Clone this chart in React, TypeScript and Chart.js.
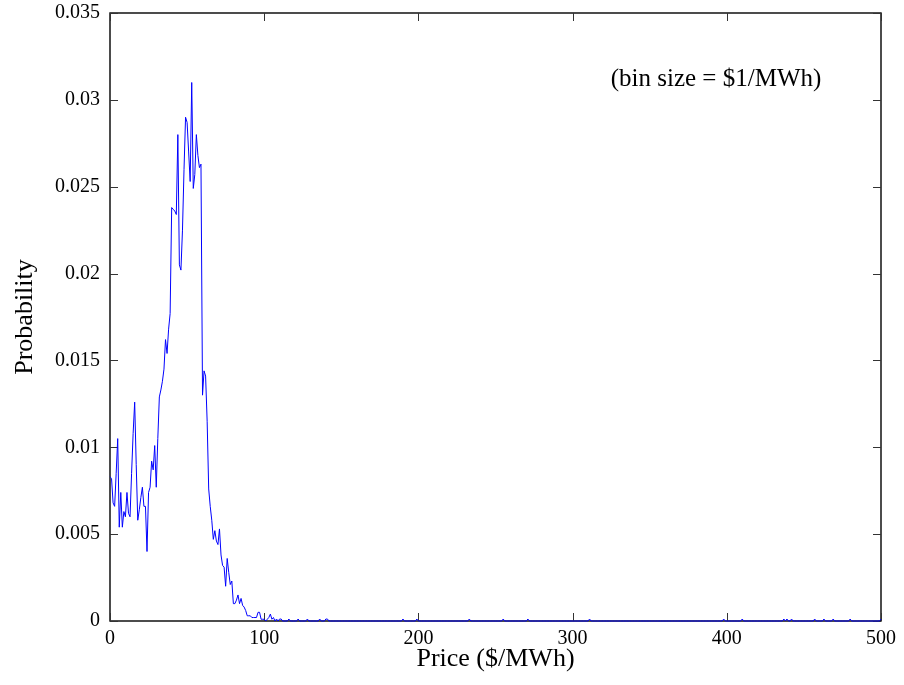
import React, { useEffect, useRef } from 'react';
import { Chart, registerables } from 'chart.js';

Chart.register(...registerables);

// Main body of the histogram: price bins $0..$105 (bin size $1/MWh)
const BODY_PROBS: number[] = [
  0.0083, 0.0082, 0.0068, 0.0066, 0.0085, 0.0105, 0.0054, 0.0074, 0.0054, 0.0063, // 0-9
  0.0060, 0.0074, 0.0062, 0.0060, 0.0085, 0.0108, 0.0126, 0.0090, 0.0058, 0.0064, // 10-19
  0.0071, 0.0077, 0.0066, 0.0066, 0.0040, 0.0074, 0.0077, 0.0092, 0.0087, 0.0101, // 20-29
  0.0077, 0.0105, 0.0129, 0.0133, 0.0138, 0.0145, 0.0162, 0.0154, 0.0168, 0.0177, // 30-39
  0.0238, 0.0237, 0.0236, 0.0234, 0.0280, 0.0205, 0.0202, 0.0225, 0.0260, 0.0290, // 40-49
  0.0287, 0.0270, 0.0253, 0.0310, 0.0249, 0.0257, 0.0280, 0.0268, 0.0261, 0.0263, // 50-59
  0.0130, 0.0144, 0.0141, 0.0115, 0.0076, 0.0066, 0.0058, 0.0047, 0.0052, 0.0046, // 60-69
  0.0044, 0.0053, 0.0038, 0.0032, 0.0031, 0.0020, 0.0036, 0.0028, 0.0021, 0.0023, // 70-79
  0.0010, 0.0010, 0.0012, 0.0015, 0.0010, 0.0013, 0.0009, 0.0008, 0.0006, 0.0003, // 80-89
  0.0003, 0.0003, 0.0002, 0.0002, 0.0002, 0.0002, 0.0005, 0.0005, 0.0001, 0.0001, // 90-99
  0.0001, 0.0000, 0.0001, 0.0002, 0.0004, 0.0001,                                 // 100-105
];

// Sparse high-price tail: isolated single-hour bins
const TAIL_PRICES: number[] = [106, 108, 110, 111, 116, 122, 128, 136, 140, 141, 190, 199, 233, 255, 271, 311, 398, 410, 437, 439, 442, 457, 463, 469, 480, 500];
const TAIL_PROBS: number[] = [0.0002, 0.000114, 0.000114, 0.000114, 0.000114, 0.000114, 0.000114, 0.000114, 0.000114, 0.000114, 0.000114, 0.000114, 0.000114, 0.000114, 0.000114, 0.000114, 0.000114, 0.000114, 0.000114, 0.000114, 0.000114, 0.000114, 0.000114, 0.000114, 0.000114, 0.000114];

const MAX_PRICE = 500;
const X_TICKS: number[] = [0, 100, 200, 300, 400, 500];
const Y_TICKS: number[] = [0, 0.005, 0.01, 0.015, 0.02, 0.025, 0.03, 0.035];
const Y_TICK_LABELS: string[] = ['0', '0.005', '0.01', '0.015', '0.02', '0.025', '0.03', '0.035'];

const X_TITLE = 'Price ($/MWh)';
const Y_TITLE = 'Probability';
const NOTE_TEXT = '(bin size = $1/MWh)';
const NOTE_AT = { x: 393, y: 0.0312 };

const FONT = "'Liberation Serif', 'Times New Roman', Times, serif";

function buildPoints() {
  const pts: { x: number; y: number }[] = [];
  for (let p = 0; p <= MAX_PRICE; p++) {
    let v = 0;
    if (p < BODY_PROBS.length) v = BODY_PROBS[p];
    const ti = TAIL_PRICES.indexOf(p);
    if (ti >= 0) v = TAIL_PROBS[ti];
    pts.push({ x: p, y: v });
  }
  return pts;
}

export default function App() {
  const ref = useRef<HTMLCanvasElement>(null);

  useEffect(() => {
    const canvas = ref.current;
    if (!canvas) return;

    const framePlugin = {
      id: 'framePlugin',
      beforeDatasetsDraw(chart: any) {
        const { ctx, chartArea: a, scales } = chart;
        const xs = scales.x;
        const ys = scales.y;
        ctx.save();
        ctx.strokeStyle = '#000';
        ctx.lineWidth = 1.4;
        ctx.strokeRect(a.left, a.top, a.right - a.left, a.bottom - a.top);
        ctx.strokeStyle = '#333';
        ctx.lineWidth = 1;
        const tl = 8;
        ctx.beginPath();
        X_TICKS.forEach((t) => {
          const px = Math.round(xs.getPixelForValue(t)) + 0.5;
          ctx.moveTo(px, a.bottom);
          ctx.lineTo(px, a.bottom - tl);
          ctx.moveTo(px, a.top);
          ctx.lineTo(px, a.top + tl);
        });
        Y_TICKS.forEach((t) => {
          const py = Math.round(ys.getPixelForValue(t)) + 0.5;
          ctx.moveTo(a.left, py);
          ctx.lineTo(a.left + tl, py);
          ctx.moveTo(a.right, py);
          ctx.lineTo(a.right - tl, py);
        });
        ctx.stroke();
        ctx.restore();
      },
      afterDraw(chart: any) {
        const { ctx, chartArea: a, scales } = chart;
        ctx.save();
        ctx.fillStyle = '#000';
        ctx.textAlign = 'center';
        ctx.textBaseline = 'middle';
        // note
        ctx.font = `25px ${FONT}`;
        ctx.fillText(NOTE_TEXT, scales.x.getPixelForValue(NOTE_AT.x), scales.y.getPixelForValue(NOTE_AT.y));
        // x title
        ctx.font = `26px ${FONT}`;
        ctx.fillText(X_TITLE, (a.left + a.right) / 2, 659);
        // y title
        ctx.translate(25, (a.top + a.bottom) / 2);
        ctx.rotate(-Math.PI / 2);
        ctx.fillText(Y_TITLE, 0, 0);
        ctx.restore();
      },
    };

    const chart = new Chart(canvas, {
      type: 'line',
      data: {
        datasets: [
          {
            data: buildPoints(),
            borderColor: '#0000ff',
            borderWidth: 1,
            pointRadius: 0,
            tension: 0,
            fill: false,
            clip: 3,
          } as any,
        ],
      },
      options: {
        animation: false,
        responsive: false,
        maintainAspectRatio: false,
        parsing: false as any,
        layout: { padding: { top: 13, right: 23, left: 0, bottom: 0 } },
        plugins: { legend: { display: false }, tooltip: { enabled: false } },
        scales: {
          x: {
            type: 'linear',
            min: 0,
            max: 500,
            afterBuildTicks: (s: any) => {
              s.ticks = X_TICKS.map((v) => ({ value: v }));
            },
            afterFit: (s: any) => {
              s.height = 64;
              s.paddingLeft = 0;
              s.paddingRight = 0;
            },
            grid: { display: false, drawTicks: false },
            border: { display: false },
            ticks: {
              color: '#000',
              padding: 6,
              maxRotation: 0,
              font: { family: FONT, size: 20 },
              callback: (v: any) => String(v),
            },
          },
          y: {
            type: 'linear',
            min: 0,
            max: 0.035,
            afterBuildTicks: (s: any) => {
              s.ticks = Y_TICKS.map((v) => ({ value: v }));
            },
            afterFit: (s: any) => {
              s.width = 110;
              s.paddingTop = 0;
              s.paddingBottom = 0;
            },
            grid: { display: false, drawTicks: false },
            border: { display: false },
            ticks: {
              color: '#000',
              padding: 10,
              font: { family: FONT, size: 20 },
              callback: (v: any) => {
                const i = Y_TICKS.findIndex((t) => Math.abs(t - v) < 1e-9);
                return i >= 0 ? Y_TICK_LABELS[i] : '';
              },
            },
          },
        },
      },
      plugins: [framePlugin],
    });

    return () => chart.destroy();
  }, []);

  return (
    <div style={{ position: 'fixed', left: 0, top: 0, width: 904, height: 685, background: '#fff' }}>
      <canvas ref={ref} width={904} height={685} style={{ display: 'block', width: 904, height: 685 }} />
    </div>
  );
}
